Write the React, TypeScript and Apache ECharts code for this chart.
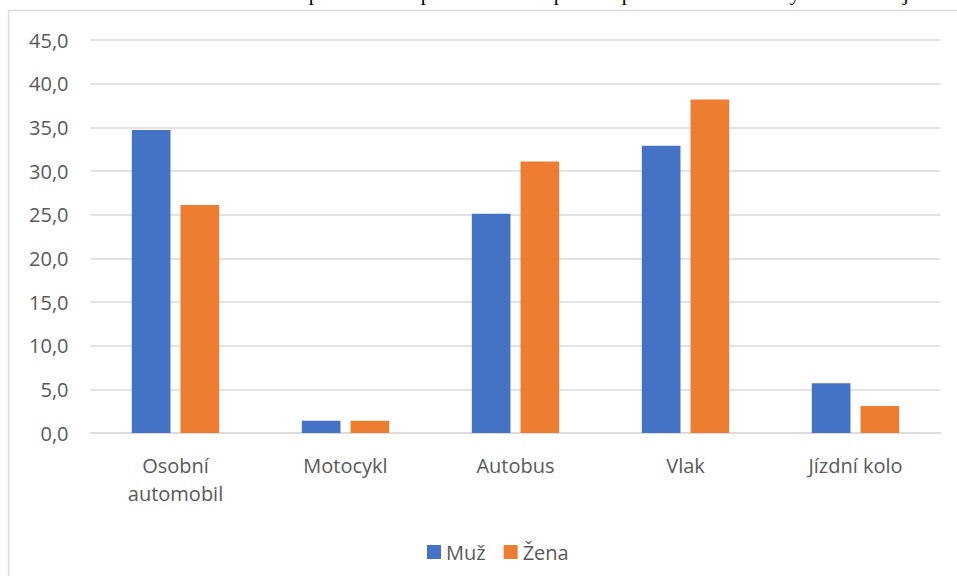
import React, { useEffect, useRef } from "react";
import * as echarts from "echarts";

const categories = ["Osobní\nautomobil", "Motocykl", "Autobus", "Vlak", "Jízdní kolo"];
const seriesNames = ["Muž", "Žena"];
const muzValues = [34.7, 1.4, 25.1, 32.9, 5.7];
const zenaValues = [26.1, 1.4, 31.1, 38.2, 3.1];
const topFragments = [
  { t: "p", x: 314 },
  { t: "p", x: 426 },
  { t: "p", x: 559 },
  { t: "p", x: 627 },
  { t: "y", x: 795 },
  { t: "j", x: 906 },
];

const FONT = "'Open Sans', 'Noto Sans', sans-serif";
const GRAY = "#595959";

export default function App() {
  const ref = useRef<HTMLDivElement>(null);
  useEffect(() => {
    if (!ref.current) return;
    const chart = echarts.init(ref.current, undefined, { renderer: "svg" });
    chart.setOption({
      animation: false,
      backgroundColor: "#ffffff",
      textStyle: { fontFamily: FONT },
      graphic: [
        {
          type: "rect",
          shape: { x: 8.5, y: 10.5, width: 1100, height: 800 },
          style: { fill: "none", stroke: "#D9D9D9", lineWidth: 1.5 },
          silent: true,
          z: -10,
        },
        ...topFragments.map((f) => ({
          type: "text",
          x: f.x,
          y: 3,
          style: {
            text: f.t,
            fill: "#000",
            font: "21px 'Liberation Serif', serif",
            align: "center",
            verticalAlign: "bottom",
          },
          silent: true,
        })),
      ],
      grid: { left: 90.5, right: 16.5, top: 40, bottom: 143, containLabel: false },
      legend: {
        data: seriesNames,
        left: 422,
        top: 537,
        itemWidth: 14,
        itemHeight: 14,
        itemGap: 18,
        icon: "rect",
        textStyle: { color: GRAY, fontSize: 20, fontFamily: FONT },
      },
      xAxis: {
        type: "category",
        data: categories,
        axisTick: { show: false },
        axisLine: { lineStyle: { color: "#D9D9D9", width: 1.5 } },
        axisLabel: {
          color: GRAY,
          fontSize: 20,
          lineHeight: 28,
          margin: 18,
          fontFamily: FONT,
          interval: 0,
        },
      },
      yAxis: {
        type: "value",
        min: 0,
        max: 45,
        interval: 5,
        axisLine: { show: false },
        axisTick: { show: false },
        splitLine: { lineStyle: { color: "#D9D9D9", width: 1.5 } },
        axisLabel: {
          color: GRAY,
          fontSize: 20,
          margin: 22,
          fontFamily: FONT,
          formatter: (v: number) => v.toFixed(1).replace(".", ","),
        },
      },
      series: [
        {
          name: seriesNames[0],
          type: "bar",
          data: muzValues,
          itemStyle: { color: "#4472C4" },
          barGap: "26%",
          barCategoryGap: "48.6%",
        },
        {
          name: seriesNames[1],
          type: "bar",
          data: zenaValues,
          itemStyle: { color: "#ED7D31" },
          barGap: "26%",
          barCategoryGap: "48.6%",
        },
      ],
    });
    return () => chart.dispose();
  }, []);
  return (
    <div
      ref={ref}
      style={{ position: "fixed", left: 0, top: 0, width: 957, height: 576 }}
    />
  );
}
